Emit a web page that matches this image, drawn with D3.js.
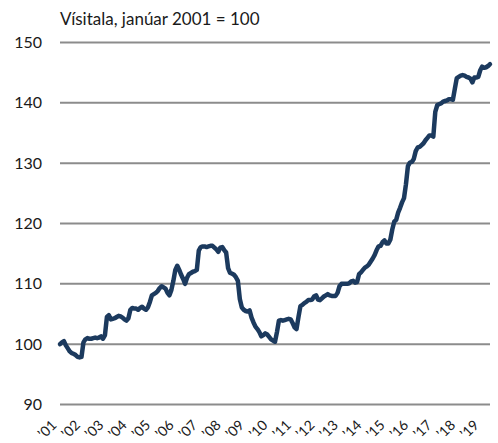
<!DOCTYPE html>
<html>
<head>
<meta charset="utf-8">
<script src="https://cdn.jsdelivr.net/npm/d3@7"></script>
<style>
  body { margin: 0; background: #fff; }
  svg text { font-family: Lato, "Open Sans", sans-serif; fill: #1a1a1a; }
</style>
</head>
<body>
<div id="chart"></div>
<script>
// Monthly index, Jan 2001 = 100
const startYear = 2001;
const values = [
  // 2001
  100.0, 100.3, 100.5, 99.8, 99.3, 98.8, 98.5, 98.4, 98.2, 97.9, 97.8, 97.9,
  // 2002
  100.3, 100.8, 101.0, 100.9, 100.9, 101.0, 101.1, 101.0, 101.1, 101.3, 100.9, 101.5,
  // 2003
  104.5, 104.8, 104.1, 104.2, 104.3, 104.5, 104.7, 104.6, 104.4, 104.1, 103.9, 104.3,
  // 2004
  105.7, 106.0, 105.9, 105.9, 105.7, 106.0, 106.2, 105.9, 105.7, 106.1, 107.0, 108.1,
  // 2005
  108.3, 108.5, 108.8, 109.3, 109.6, 109.4, 109.2, 108.5, 108.1, 109.0, 110.5, 112.3,
  // 2006
  113.0, 112.3, 111.5, 110.8, 110.0, 111.0, 111.6, 111.8, 112.0, 112.1, 112.3, 115.5,
  // 2007
  116.1, 116.2, 116.2, 116.1, 116.2, 116.3, 116.3, 116.0, 115.7, 115.3, 116.0, 116.1,
  // 2008
  115.6, 115.2, 112.6, 111.8, 111.7, 111.5, 111.1, 110.5, 107.5, 106.1, 105.7, 105.5,
  // 2009
  105.4, 105.6, 104.4, 103.6, 102.9, 102.5, 102.0, 101.3, 101.5, 101.8, 101.6, 101.2,
  // 2010
  100.8, 100.6, 100.4, 102.0, 103.9, 104.0, 103.9, 104.0, 104.1, 104.2, 104.1, 103.5,
  // 2011
  102.8, 102.5, 104.5, 106.3, 106.5, 106.8, 107.0, 107.3, 107.3, 107.4, 107.9, 108.1,
  // 2012
  107.4, 107.3, 107.6, 107.9, 108.1, 108.3, 108.1, 108.0, 108.0, 108.0, 108.5, 109.6,
  // 2013
  110.0, 110.0, 110.0, 110.0, 110.1, 110.4, 110.5, 110.2, 110.3, 111.6, 111.9, 112.3,
  // 2014
  112.7, 112.9, 113.2, 113.7, 114.2, 114.8, 115.6, 116.2, 116.3, 116.9, 117.2, 116.7,
  // 2015
  116.7, 117.3, 119.0, 120.3, 120.6, 121.8, 122.6, 123.5, 124.2, 126.5, 129.5, 130.1,
  // 2016
  130.2, 130.7, 132.0, 132.6, 132.7, 133.0, 133.3, 133.8, 134.2, 134.6, 134.6, 134.4,
  // 2017
  138.5, 139.6, 139.8, 139.9, 140.2, 140.3, 140.4, 140.6, 140.6, 140.5, 142.3, 144.1,
  // 2018
  144.3, 144.5, 144.6, 144.5, 144.3, 144.2, 144.0, 143.4, 144.2, 144.2, 144.3, 145.4,
  // 2019
  146.0, 145.8, 145.9, 146.1, 146.4
];
const yTicks = [90, 100, 110, 120, 130, 140, 150];
const yearLabels = ["’01","’02","’03","’04","’05","’06","’07","’08","’09","’10",
                    "’11","’12","’13","’14","’15","’16","’17","’18","’19"];
const title = "Vísitala, janúar 2001 = 100";

const W = 498, H = 443;
const M = {top: 42.5, right: 8, bottom: 38.5, left: 60};

const svg = d3.select("#chart").append("svg")
  .attr("width", W).attr("height", H);

const x = d3.scaleLinear().domain([0, values.length - 1]).range([M.left, W - M.right]);
const y = d3.scaleLinear().domain([90, 150]).range([H - M.bottom, M.top]);

// gridlines
svg.append("g").selectAll("line").data(yTicks).join("line")
  .attr("x1", M.left).attr("x2", W - M.right)
  .attr("y1", d => y(d)).attr("y2", d => y(d))
  .attr("stroke", "#8c8c8c").attr("stroke-width", 2);

// y tick labels
svg.append("g").selectAll("text").data(yTicks).join("text")
  .attr("x", 42).attr("y", d => y(d)).attr("dy", "0.35em")
  .attr("text-anchor", "end").attr("font-size", 16)
  .text(d => d);

// x labels (rotated)
svg.append("g").selectAll("text").data(yearLabels).join("text")
  .attr("transform", (d, i) => `translate(${x(i * 12) - 6},${H - M.bottom + 18}) rotate(-45)`)
  .attr("text-anchor", "end").attr("dy", "0.35em").attr("font-size", 14)
  .text(d => d);

// title
svg.append("text").attr("x", M.left).attr("y", 25).attr("font-size", 17).text(title);

// line
const line = d3.line().x((d, i) => x(i)).y(d => y(d));
svg.append("path").datum(values)
  .attr("fill", "none").attr("stroke", "#1c3a5e").attr("stroke-width", 4.5)
  .attr("stroke-linejoin", "round").attr("stroke-linecap", "round")
  .attr("d", line);
</script>
</body>
</html>
